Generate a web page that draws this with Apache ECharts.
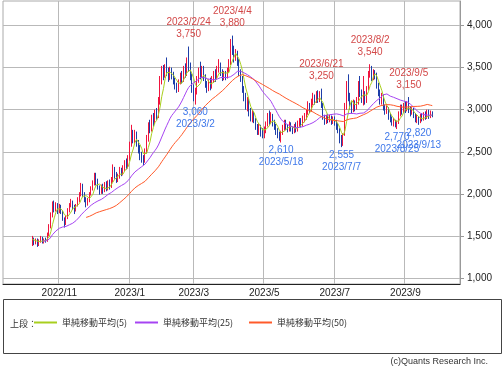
<!DOCTYPE html>
<html><head><meta charset="utf-8">
<script src="https://cdn.jsdelivr.net/npm/echarts@6/dist/echarts.min.js"></script>
<style>html,body{margin:0;padding:0;background:#fff}#c{width:504px;height:367px}</style>
</head><body><div id="c"></div>
<script>
// ---- axis calendar (trading days) ----
const axisStart = '2022/9/12';
const axisCount = 272;
const holidays = ['2022/9/19','2022/9/23','2022/10/10','2022/11/3','2022/11/23','2023/1/2','2023/1/3','2023/1/9','2023/2/23','2023/3/21','2023/5/3','2023/5/4','2023/5/5','2023/7/17','2023/8/11','2023/9/18','2023/10/9'];
const labelMonths = [11, 1, 3, 5, 7, 9];
const yTicks = [1000, 1500, 2000, 2500, 3000, 3500, 4000];

// ---- daily OHLC: [open, close, low, high] ----
const dataStart = '2022/10/7';
const oct22 = [[1430,1460,1380,1500],[1460,1420,1390,1480],[1420,1450,1400,1470],[1450,1400,1370,1470],[1400,1440,1380,1460],[1440,1470,1420,1500],[1470,1430,1410,1490],[1430,1450,1410,1470],[1450,1440,1420,1480],[1440,1520,1430,1540],[1520,1600,1500,1640],[1600,1750,1590,1780],[1750,1880,1720,1910],[1880,1820,1780,1920],[1820,1860,1790,1900],[1860,1800,1760,1890]];
const nov22 = [[1800,1850,1770,1880],[1850,1780,1760,1870],[1780,1700,1680,1800],[1700,1640,1600,1720],[1640,1720,1630,1740],[1720,1800,1700,1830],[1800,1860,1780,1890],[1860,1900,1840,1940],[1900,1840,1810,1920],[1840,1800,1760,1870],[1800,1860,1790,1880],[1860,1930,1850,1960],[1930,1990,1900,2020],[1990,2080,1970,2130],[2080,2000,1960,2120],[2000,1940,1900,2020],[1940,1880,1840,1960],[1880,1920,1860,1950],[1920,1990,1900,2020],[1990,2060,1980,2090]];
const dec22 = [[2060,2120,2040,2160],[2120,2200,2100,2250],[2200,2150,2100,2250],[2150,2080,2050,2180],[2080,2030,1990,2100],[2030,2080,2000,2110],[2080,2040,2000,2120],[2040,2100,2020,2140],[2100,2060,2030,2150],[2060,2120,2040,2160],[2120,2080,2050,2170],[2080,2150,2070,2200],[2150,2300,2140,2350],[2300,2220,2180,2320],[2220,2160,2130,2260],[2160,2200,2140,2240],[2200,2280,2180,2320],[2280,2240,2210,2310],[2240,2300,2220,2340],[2300,2350,2270,2400],[2350,2320,2290,2420],[2320,2400,2300,2460]];
const jan23 = [[2400,2580,2390,2620],[2580,2720,2560,2820],[2720,2640,2600,2760],[2640,2700,2600,2760],[2700,2600,2560,2740],[2600,2540,2480,2640],[2540,2450,2400,2580],[2450,2420,2370,2500],[2420,2380,2340,2460],[2380,2500,2370,2540],[2500,2650,2480,2700],[2650,2800,2620,2850],[2800,2760,2720,2880],[2760,2880,2740,2940],[2880,2850,2800,2960],[2850,2960,2830,3000],[2960,2920,2880,3020],[2920,3080,2900,3150],[3080,3350,3060,3400]];
const feb23 = [[3350,3480,3300,3520],[3480,3420,3350,3530],[3420,3500,3380,3540],[3500,3450,3400,3620],[3450,3380,3330,3500],[3380,3470,3350,3510],[3470,3400,3360,3500],[3400,3350,3300,3450],[3350,3280,3240,3380],[3280,3230,3200,3320],[3230,3320,3210,3360],[3320,3400,3300,3440],[3400,3350,3310,3460],[3350,3480,3330,3520],[3480,3420,3380,3550],[3420,3560,3400,3620],[3560,3500,3450,3750],[3500,3400,3350,3560],[3400,3250,3200,3430]];
const mar23 = [[3250,3150,3100,3300],[3150,3200,3060,3260],[3200,3350,3180,3400],[3350,3450,3320,3500],[3450,3400,3360,3570],[3400,3480,3380,3520],[3480,3380,3340,3520],[3380,3300,3260,3420],[3300,3250,3200,3340],[3250,3320,3220,3360],[3320,3280,3230,3380],[3280,3350,3250,3400],[3350,3420,3320,3460],[3420,3380,3330,3480],[3380,3470,3360,3520],[3470,3530,3440,3600],[3530,3450,3400,3560],[3450,3380,3340,3480],[3380,3420,3350,3460],[3420,3390,3350,3460],[3390,3460,3370,3500],[3460,3550,3440,3600]];
const apr23 = [[3550,3800,3530,3840],[3800,3700,3650,3880],[3700,3620,3560,3760],[3620,3680,3580,3720],[3680,3560,3520,3700],[3560,3450,3400,3600],[3450,3380,3330,3480],[3380,3250,3200,3400],[3250,3150,3100,3280],[3150,3050,3000,3200],[3050,3100,2980,3150],[3100,2980,2920,3140],[2980,2900,2860,3020],[2900,2950,2850,3000],[2950,2880,2840,2980],[2880,2800,2760,2900],[2800,2750,2700,2830],[2750,2800,2700,2840],[2800,2740,2680,2820],[2740,2700,2660,2780]];
const may23 = [[2700,2760,2660,2800],[2760,2820,2720,2860],[2820,2900,2800,2960],[2900,2860,2820,2990],[2860,2920,2830,2970],[2920,2850,2800,2950],[2850,2800,2760,2880],[2800,2740,2700,2830],[2740,2700,2660,2780],[2700,2680,2630,2740],[2680,2720,2610,2750],[2720,2780,2700,2820],[2780,2850,2750,2880],[2850,2800,2760,2880],[2800,2760,2730,2830],[2760,2820,2740,2860],[2820,2780,2740,2850],[2780,2740,2710,2800],[2740,2800,2720,2830],[2800,2770,2730,2850]];
const jun23 = [[2770,2820,2740,2870],[2820,2860,2790,2900],[2860,2830,2790,2900],[2830,2880,2800,2930],[2880,2920,2850,2960],[2920,2970,2880,3000],[2970,3050,2940,3100],[3050,3000,2960,3080],[3000,3080,2980,3130],[3080,3150,3050,3200],[3150,3100,3060,3180],[3100,3180,3080,3220],[3180,3100,3080,3230],[3100,3180,3090,3220],[3180,3050,3020,3250],[3050,2900,2880,3080],[2900,2850,2820,2940],[2850,2900,2830,2940],[2900,2870,2840,2950],[2870,2900,2850,2940],[2900,2860,2820,2930],[2860,2880,2830,2920]];
const jul23 = [[2880,2850,2810,2920],[2850,2800,2760,2880],[2800,2750,2720,2840],[2750,2640,2600,2780],[2640,2600,2555,2700],[2600,2700,2570,2720],[2700,3050,2690,3080],[3050,3300,3000,3340],[3300,3150,3100,3420],[3150,3050,3000,3200],[3050,3000,2960,3100],[3000,3060,2970,3120],[3060,3020,2980,3110],[3020,3080,3000,3150],[3080,3300,3060,3340],[3300,3200,3150,3400],[3200,3120,3080,3240],[3120,3180,3050,3400],[3180,3100,3060,3220],[3100,3250,3080,3280]];
const aug23 = [[3250,3420,3230,3460],[3420,3480,3380,3540],[3480,3380,3340,3520],[3380,3450,3350,3480],[3450,3400,3360,3470],[3400,3280,3250,3440],[3280,3200,3160,3320],[3200,3100,3060,3240],[3100,3150,3060,3200],[3150,3020,2990,3180],[3020,2980,2940,3060],[2980,3000,2950,3050],[3000,2920,2880,3030],[2920,2880,2850,2960],[2880,2840,2810,2920],[2840,2860,2800,2900],[2860,2820,2790,2880],[2820,2850,2770,2870],[2850,2950,2830,2980],[2950,3020,2920,3060],[3020,2980,2940,3060],[2980,3050,2960,3080]];
const sep23 = [[3050,3000,2960,3100],[3000,3060,2980,3100],[3060,3000,2960,3150],[3000,2960,2920,3040],[2960,3000,2940,3030],[3000,2930,2900,3020],[2930,2880,2850,2960],[2880,2900,2840,2940],[2900,2860,2820,2920],[2860,2920,2840,2950],[2920,2900,2860,2960],[2900,2940,2870,2970],[2940,2910,2880,2980],[2910,2960,2890,3000],[2960,2920,2890,3000],[2920,2950,2900,2990],[2950,2940,2910,2980]];

// ---- moving averages ----
const maPeriods = [5, 25, 50];
const maNames = ['単純移動平均(5)', '単純移動平均(25)', '単純移動平均(50)'];
const maShowFrom = ['2022/10/7', '2022/10/18', '2022/11/25'];

// ---- annotated highs / lows ----
const highDates = ['2023/2/24', '2023/4/4', '2023/6/21', '2023/8/2', '2023/9/5'];
const highValues = [3750, 3880, 3250, 3540, 3150];
const lowDates = ['2023/3/2', '2023/5/18', '2023/7/7', '2023/8/25', '2023/9/13'];
const lowValues = [3060, 2610, 2555, 2770, 2820];

// ---------------------------------------------------------------
function fmtDate(d){ return d.getFullYear() + '/' + (d.getMonth()+1) + '/' + d.getDate(); }
function fmtNum(v){ return String(v).replace(/\B(?=(\d{3})+(?!\d))/g, ','); }

const dates = [];
{
  const d = new Date(axisStart);
  while (dates.length < axisCount) {
    const wd = d.getDay(); const s = fmtDate(d);
    if (wd !== 0 && wd !== 6 && holidays.indexOf(s) < 0) dates.push(s);
    d.setDate(d.getDate() + 1);
  }
}
const labelIdx = new Set();
for (let i = 1; i < dates.length; i++) {
  const m = +dates[i].split('/')[1], pm = +dates[i-1].split('/')[1];
  if (m !== pm && labelMonths.indexOf(m) >= 0) labelIdx.add(i);
}
const ohlc = [].concat(oct22, nov22, dec22, jan23, feb23, mar23, apr23, may23, jun23, jul23, aug23, sep23);
const startIdx = dates.indexOf(dataStart);
const candleData = dates.map((d, i) => {
  const k = i - startIdx;
  return (k >= 0 && k < ohlc.length) ? ohlc[k] : '-';
});
const closes = ohlc.map(r => r[1]);
function maSeries(n, showFrom) {
  const from = dates.indexOf(showFrom);
  return dates.map((d, i) => {
    const k = i - startIdx;
    if (i < from || k < 0 || k >= closes.length) return '-';
    const s = Math.max(0, k - n + 1);
    let sum = 0; for (let j = s; j <= k; j++) sum += closes[j];
    return +(sum / (k - s + 1)).toFixed(1);
  });
}
const maColors = ['#a8cf1e', '#a644f2', '#ff5a2a'];
const fontLatin = '"Liberation Sans", Arial, sans-serif';
const fontCJK = '"Noto Sans CJK JP", "Liberation Sans", sans-serif';

const markData = [];
highDates.forEach((d, i) => markData.push({
  coord: [d, highValues[i]], value: highValues[i],
  label: { position: 'top', distance: 6, color: '#d34848', formatter: d + '\n' + fmtNum(highValues[i]) }
}));
lowDates.forEach((d, i) => markData.push({
  coord: [d, lowValues[i]], value: lowValues[i],
  label: { position: 'bottom', distance: 2, color: '#3f78ea', formatter: fmtNum(lowValues[i]) + '\n' + d }
}));

const chart = echarts.init(document.getElementById('c'), null, { renderer: 'canvas' });
const series = [{
  type: 'candlestick', name: '株価', data: candleData, barWidth: 1,
  itemStyle: { color: '#f0143e', color0: '#1d3ea8', borderColor: '#f0143e', borderColor0: '#1d3ea8', borderWidth: 1 },
  markPoint: {
    symbol: 'circle', symbolSize: 0, animation: false, silent: true,
    label: { show: true, fontSize: 10, lineHeight: 12, fontFamily: fontLatin },
    data: markData
  },
  z: 2
}];
maPeriods.forEach((n, k) => series.push({
  type: 'line', name: maNames[k], data: maSeries(n, maShowFrom[k]),
  symbol: 'none', showSymbol: false, smooth: false, connectNulls: false,
  lineStyle: { width: 1, color: maColors[k] }, itemStyle: { color: maColors[k] }, z: 3, silent: true
}));

const legendLeft = [34, 135, 249];
chart.setOption({
  animation: false,
  backgroundColor: '#fff',
  grid: { left: 3, right: 44, top: 1, bottom: 83, show: true, borderColor: '#aaa', borderWidth: 1, backgroundColor: 'transparent' },
  xAxis: {
    type: 'category', data: dates, boundaryGap: true,
    axisLine: { show: true, lineStyle: { color: '#222', width: 1 } },
    axisTick: { show: false },
    axisLabel: { interval: (i) => labelIdx.has(i), formatter: v => v.split('/').slice(0, 2).join('/'), fontSize: 10, color: '#222', margin: 4, fontFamily: fontLatin },
    splitLine: { show: true, interval: (i) => labelIdx.has(i), lineStyle: { color: '#b9b9b9', width: 1 } }
  },
  yAxis: {
    type: 'value', position: 'right', min: 929, max: 4291,
    axisLine: { show: true, lineStyle: { color: '#999' } },
    axisTick: { show: true, length: 4, customValues: yTicks, lineStyle: { color: '#999' } },
    axisLabel: { customValues: yTicks, formatter: v => fmtNum(v), fontSize: 10, color: '#222', margin: 7, fontFamily: fontLatin },
    splitLine: { show: true, lineStyle: { color: '#b9b9b9', width: 1 } }
  },
  legend: maNames.map((n, k) => ({
    data: [{ name: n, icon: 'rect', itemStyle: { color: maColors[k], borderWidth: 0 } }],
    left: legendLeft[k], top: 318, padding: 0, itemWidth: 23, itemHeight: 2, itemGap: 0,
    textStyle: { fontSize: 9, color: '#333', fontFamily: fontCJK, padding: [0, 0, 0, 0] }, selectedMode: false
  })),
  graphic: [
    { type: 'rect', shape: { x: 3.5, y: 299.5, width: 498, height: 54 }, style: { fill: 'none', stroke: '#444', lineWidth: 1 }, silent: true },
    { type: 'text', x: 10, y: 324, style: { text: '上段：', fill: '#333', font: '9px "Noto Sans CJK JP", sans-serif', verticalAlign: 'middle' }, silent: true },
    { type: 'text', x: 488, y: 362, style: { text: '(c)Quants Research Inc.', fill: '#333', font: '9px "Liberation Sans", Arial, sans-serif', align: 'right', verticalAlign: 'middle' }, silent: true }
  ],
  series: series
});
</script></body></html>
